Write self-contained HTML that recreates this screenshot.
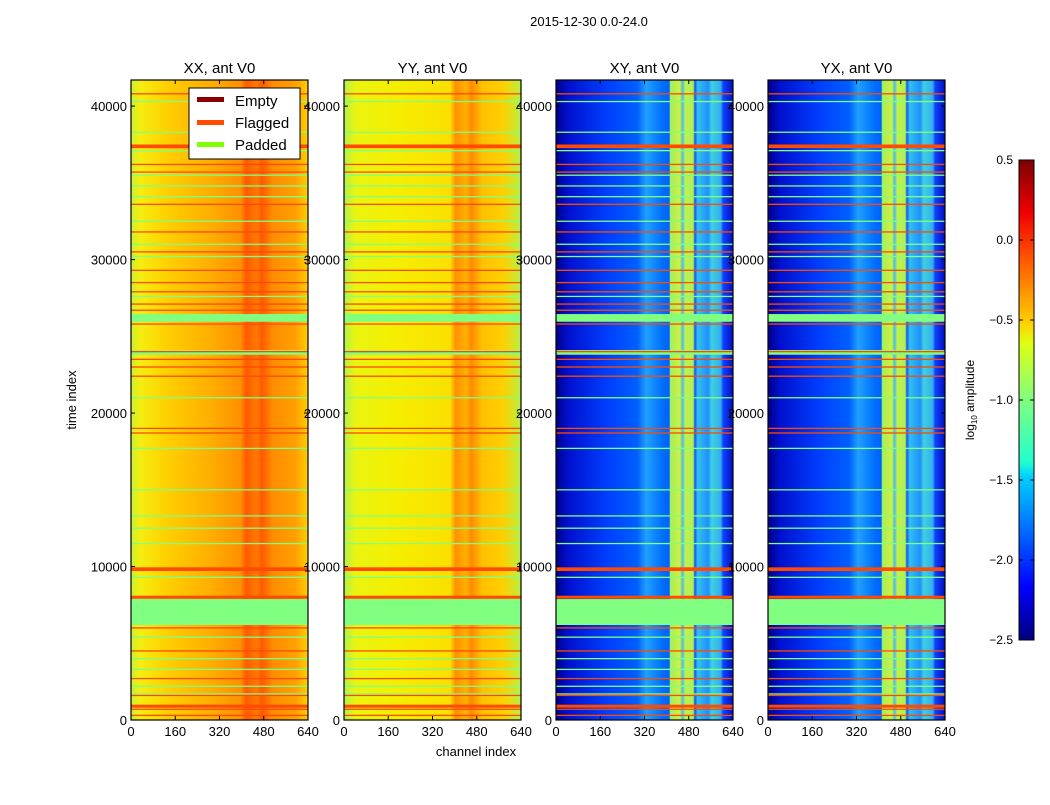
<!DOCTYPE html>
<html><head><meta charset="utf-8"><style>
html,body{margin:0;padding:0;background:#fff}
svg text{font-family:"Liberation Sans","DejaVu Sans",sans-serif}
</style></head><body>
<svg id="fig" width="1050" height="800" viewBox="0 0 1050 800" xmlns="http://www.w3.org/2000/svg">
<defs>
<linearGradient id="gXX" x1="0" x2="1" y1="0" y2="0">
<stop offset="0" stop-color="#c8f030"/><stop offset="0.05" stop-color="#f5ee10"/><stop offset="0.2" stop-color="#ffd000"/>
<stop offset="0.45" stop-color="#ffae00"/><stop offset="0.62" stop-color="#ff9000"/><stop offset="0.65" stop-color="#ff5a00"/>
<stop offset="0.71" stop-color="#ff7a00"/><stop offset="0.74" stop-color="#ff5a00"/><stop offset="0.8" stop-color="#ff8c00"/>
<stop offset="0.93" stop-color="#ffa000"/><stop offset="1" stop-color="#ffd000"/></linearGradient>
<linearGradient id="gYY" x1="0" x2="1" y1="0" y2="0">
<stop offset="0" stop-color="#b0f050"/><stop offset="0.06" stop-color="#e8f510"/><stop offset="0.3" stop-color="#f6ee00"/>
<stop offset="0.6" stop-color="#fae000"/><stop offset="0.63" stop-color="#ff9000"/><stop offset="0.69" stop-color="#ffb000"/>
<stop offset="0.72" stop-color="#ff8a00"/><stop offset="0.78" stop-color="#ffc000"/><stop offset="0.9" stop-color="#ffd000"/><stop offset="1" stop-color="#b8f040"/></linearGradient>
<linearGradient id="gXY" x1="0" x2="1" y1="0" y2="0">
<stop offset="0" stop-color="#00008a"/><stop offset="0.07" stop-color="#0010d0"/><stop offset="0.3" stop-color="#0040ff"/>
<stop offset="0.46" stop-color="#0060ff"/><stop offset="0.51" stop-color="#20a0ff"/><stop offset="0.6" stop-color="#0070ff"/>
<stop offset="0.64" stop-color="#0060ff"/><stop offset="0.645" stop-color="#a0f060"/><stop offset="0.7" stop-color="#d0f040"/>
<stop offset="0.715" stop-color="#40c0f0"/><stop offset="0.73" stop-color="#c0f050"/><stop offset="0.775" stop-color="#b0f050"/>
<stop offset="0.785" stop-color="#1050ff"/><stop offset="0.8" stop-color="#30c0f0"/><stop offset="0.86" stop-color="#2090ff"/>
<stop offset="0.88" stop-color="#40d0e0"/><stop offset="0.93" stop-color="#30b0f0"/><stop offset="0.945" stop-color="#1040ff"/>
<stop offset="1" stop-color="#0010c0"/></linearGradient>
<linearGradient id="gJet" x1="0" x2="0" y1="1" y2="0">
<stop offset="0" stop-color="#00007f"/><stop offset="0.11" stop-color="#0000ff"/><stop offset="0.34" stop-color="#00d0ff"/>
<stop offset="0.37" stop-color="#20ffd0"/><stop offset="0.5" stop-color="#80ff80"/><stop offset="0.62" stop-color="#e0ff10"/>
<stop offset="0.66" stop-color="#ffd000"/><stop offset="0.8" stop-color="#ff5000"/><stop offset="0.89" stop-color="#f00000"/><stop offset="1" stop-color="#7f0000"/></linearGradient>
</defs>
<text x="589" y="26" font-size="13" text-anchor="middle">2015-12-30 0.0-24.0</text>
<g id="panels"></g>
<text transform="translate(76,400) rotate(-90)" font-size="13" text-anchor="middle">time index</text>
<text x="476" y="756" font-size="13" text-anchor="middle">channel index</text>
<g>
<rect x="189" y="88" width="111" height="71" fill="#fff" stroke="#000"/>
<rect x="197" y="97" width="27" height="5" fill="#8b0000"/>
<text x="235" y="106" font-size="15">Empty</text>
<rect x="197" y="120" width="27" height="5" fill="#ff4a00"/>
<text x="235" y="128" font-size="15">Flagged</text>
<rect x="197" y="142" width="27" height="5" fill="#80ff00"/>
<text x="235" y="150" font-size="15">Padded</text>
</g>
<g>
<rect x="1019" y="160" width="15" height="480" fill="url(#gJet)" stroke="#000" stroke-width="1"/>
<g id="cbticks"></g>
<text transform="translate(974,400) rotate(-90)" font-size="12" text-anchor="middle">log<tspan font-size="8" dy="3">10</tspan><tspan dy="-3"> amplitude</tspan></text>
</g>
</svg>
<script>
const panelTitles = ["XX, ant V0","YY, ant V0","XY, ant V0","YX, ant V0"];
const panelFills = ["gXX","gYY","gXY","gXY"];
const xTicks = [0,160,320,480,640];
const yTicks = [0,10000,20000,30000,40000];
const flaggedRows = [40800,37400,37300,36200,35700,33600,31800,30500,29300,28500,27900,27100,26700,25800,24000,23500,23000,22400,19000,18700,9850,9750,8000,6000,4500,2700,1600,900,700,300];
const paddedRows = [40300,38300,37100,35500,34800,34100,32500,31000,30200,27600,21000,17700,15000,13300,12500,11500,9300,5400,4000,3300,2200,1700];
const paddedBands = [[6190,7880],[25950,26450],[23800,24100]];
const cbTicks = [-2.5,-2.0,-1.5,-1.0,-0.5,0.0,0.5];
const cbLabels = ["\u22122.5","\u22122.0","\u22121.5","\u22121.0","\u22120.5","0.0","0.5"];
const panelX = [131,344,556,768];
const PW = 177, PT = 80, PB = 720, TMAX = 41700;
const NS = "http://www.w3.org/2000/svg";
function yScale(t){ return PB - t/TMAX*(PB-PT); }
function xScale(c,x0){ return x0 + c/640*PW; }
function mk(tag, attrs, parent){ const e=document.createElementNS(NS,tag); for(const k in attrs) e.setAttribute(k,attrs[k]); parent.appendChild(e); return e; }
const root = document.getElementById('panels');
panelX.forEach((x0,i)=>{
  const g = mk('g',{},root);
  
  
  const hm = mk('rect',{x:x0,y:PT,width:PW,height:PB-PT,fill:'url(#'+panelFills[i]+')'},g);
  
  
  paddedBands.forEach(b=>{
    const r = mk('rect',{x:x0,y:yScale(b[1]),width:PW,height:yScale(b[0])-yScale(b[1]),fill:'#80ff80'},g);
    
    
  });
  paddedRows.forEach(t=>{
    const r = mk('rect',{x:x0,y:yScale(t)-0.6,width:PW,height:1.3,fill:'#80ff80'},g);
    
    
  });
  flaggedRows.forEach(t=>{
    const thick = (t===37400||t===8000||t===9850||t===900)?3:1.3;
    const r = mk('rect',{x:x0,y:yScale(t)-thick/2,width:PW,height:thick,fill:'#ff4a00'},g);
    
    
  });
  mk('rect',{x:x0,y:PT,width:PW,height:PB-PT,fill:'none',stroke:'#000','stroke-width':1.2},g);
  const tt = mk('text',{x:x0+PW/2,y:PT-7,'font-size':15,'text-anchor':'middle'},g);
  tt.textContent = panelTitles[i];
  
  
  xTicks.forEach(c=>{
    const x = xScale(c,x0);
    mk('line',{x1:x,x2:x,y1:PB,y2:PB-4,stroke:'#000'},g);
    mk('line',{x1:x,x2:x,y1:PT,y2:PT+4,stroke:'#000'},g);
    const l = mk('text',{x:x,y:PB+16,'font-size':13,'text-anchor':'middle'},g);
    l.textContent = c;
    
    
  });
  yTicks.forEach(t=>{
    const y = yScale(t);
    mk('line',{x1:x0,x2:x0+4,y1:y,y2:y,stroke:'#000'},g);
    mk('line',{x1:x0+PW,x2:x0+PW-4,y1:y,y2:y,stroke:'#000'},g);
    const l = mk('text',{x:x0-4,y:y+5,'font-size':13,'text-anchor':'end'},g);
    l.textContent = t;
    
    
  });
});
const cb = document.getElementById('cbticks');
cbTicks.forEach((v,i)=>{
  const y = 640 - (v+2.5)/3*480;
  mk('line',{x1:1019,x2:1023,y1:y,y2:y,stroke:'#000'},cb);
  mk('line',{x1:1034,x2:1030,y1:y,y2:y,stroke:'#000'},cb);
  const l = mk('text',{x:1013,y:y+4,'font-size':12,'text-anchor':'end'},cb);
  l.textContent = cbLabels[i];
  
  
});
</script>
</body></html>
